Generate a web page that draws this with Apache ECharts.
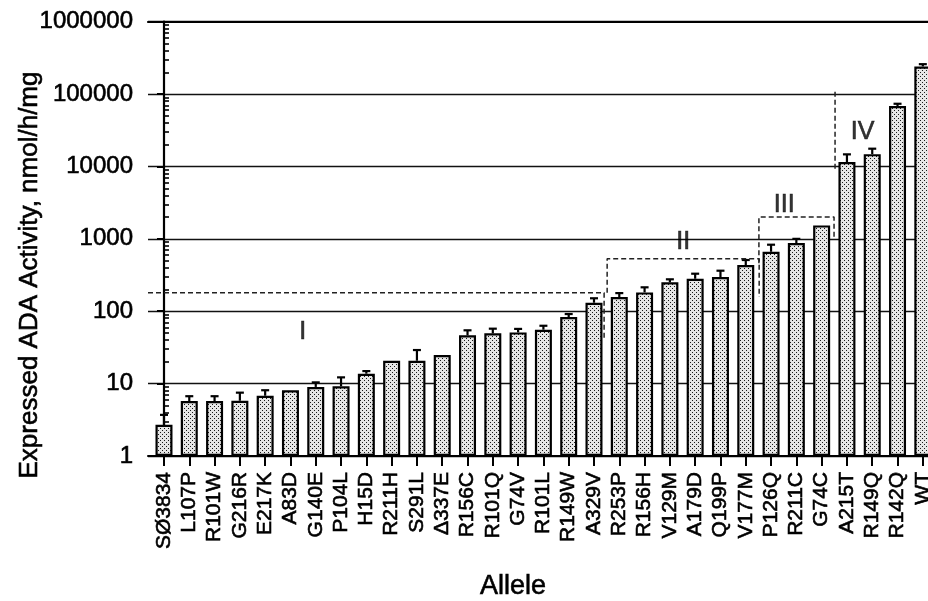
<!DOCTYPE html>
<html>
<head>
<meta charset="utf-8">
<script src="https://cdn.jsdelivr.net/npm/echarts@6/dist/echarts.min.js"></script>
<style>
html,body{margin:0;padding:0;background:#fff;}
#chart{width:928px;height:601px;}
</style>
</head>
<body>
<div id="chart"></div>
<script>
// ---- data ----
const alleles = ['SØ3834','L107P','R101W','G216R','E217K','A83D','G140E','P104L','H15D','R211H','S291L','Δ337E','R156C','R101Q','G74V','R101L','R149W','A329V','R253P','R156H','V129M','A179D','Q199P','V177M','P126Q','R211C','G74C','A215T','R149Q','R142Q','WT'];
const activity = [2.7,5.75,5.75,5.8,6.8,8.1,9.0,9.2,13.7,20.7,20.7,24.8,46.5,49.5,51,55.6,83,131,157,182,251,281,297,435,663,875,1535,11500,14800,68200,241000];
const errorTop = [3.7,6.7,6.7,7.5,8.1,null,10.4,12.2,14.9,null,29.1,null,54.5,57.4,57,63,91.5,151,178,214,276,330,363,510,830,1000,null,14700,17600,73500,259000];
const yTicks = [1,10,100,1000,10000,100000,1000000];
const minorMultipliers = [2,3,4,5,6,7,8,9];
const minorDecades = [1,10,100,1000,10000,100000];
// group boundary outlines (x in allele-index units, y in activity units)
const groupI = [[-0.632,180],[17.4,180],[17.4,43]];
const groupII = [[17.52,180],[17.52,530],[23.53,530],[23.53,157]];
const groupIII = [[23.52,460],[23.52,2000],[26.49,2000],[26.49,962]];
const groupIV = [[26.53,107600],[26.53,8720]];
const groupNames = ['I','II','III','IV'];
const groupNameX = [5.48,20.53,24.52,27.62];
const groupNameY = [52,912,2930,30100];
const yTitle = 'Expressed ADA Activity, nmol/h/mg';
const xTitle = 'Allele';

// ---- helpers ----
const xIdx = alleles.map((_, i) => i);
const yMinor = [];
minorDecades.forEach(d => minorMultipliers.forEach(m => yMinor.push(d * m)));

const pat = document.createElement('canvas');
pat.width = 4; pat.height = 4;
const pc = pat.getContext('2d');
pc.fillStyle = '#e6e6e6'; pc.fillRect(0,0,4,4);
pc.fillStyle = '#1a1a1a';
pc.fillRect(0,0,1,1); pc.fillRect(2,2,1,1);

const FONT = '"Liberation Sans", Arial, Helvetica, sans-serif';
const X_MIN = -0.632, X_MAX = 30.6;
const thick = {textBorderColor:'#000', textBorderWidth:0.6};

const chart = echarts.init(document.getElementById('chart'), null, {renderer:'canvas'});

const dashStyle = {color:'#222', width:1.5, type:[5,3]};
function outline(pts){
  return {type:'line', xAxisIndex:0, yAxisIndex:0, data:pts, symbol:'none', silent:true,
    lineStyle:dashStyle, z:4};
}

chart.setOption({
  animation:false,
  backgroundColor:'#fff',
  grid:{left:148, top:21.7, width:790, bottom:145, outerBoundsMode:'none', containLabel:false},
  xAxis:[{
    type:'value', min:X_MIN, max:X_MAX, position:'bottom',
    axisLine:{show:true, lineStyle:{color:'#000', width:2}},
    axisTick:{show:true, customValues:xIdx, length:10, lineStyle:{color:'#000', width:2}},
    axisLabel:Object.assign({show:true, customValues:xIdx, formatter:v => alleles[Math.round(v)], rotate:90,
      fontSize:21, fontFamily:FONT, color:'#000', margin:16}, thick),
    splitLine:{show:false}
  },{
    type:'value', min:X_MIN, max:X_MAX, position:'top',
    axisLine:{show:true, lineStyle:{color:'#000', width:2.2}},
    axisTick:{show:false}, axisLabel:{show:false}, splitLine:{show:false}
  }],
  yAxis:[{
    type:'log', logBase:10, min:1, max:1000000, position:'left',
    axisLine:{show:true, lineStyle:{color:'#000', width:2.2}},
    axisTick:{show:true, customValues:yTicks, length:7, lineStyle:{color:'#000', width:2}},
    axisLabel:Object.assign({show:true, customValues:yTicks, formatter:v => String(Math.round(v)),
      fontSize:24, fontFamily:FONT, color:'#000', margin:15}, thick),
    splitLine:{show:true, lineStyle:{color:'#111', width:1.3}}
  },{
    type:'log', logBase:10, min:1, max:1000000, position:'left',
    axisLine:{show:false},
    axisTick:{show:true, inside:true, customValues:yMinor, length:5, lineStyle:{color:'#000', width:1.6}},
    axisLabel:{show:false}, splitLine:{show:false}
  }],
  graphic:[
    {type:'text', x:30, y:275, rotation:Math.PI/2,
      style:{text:yTitle, font:'26px ' + FONT, fill:'#000', stroke:'#000', lineWidth:0.6, align:'center', verticalAlign:'middle'}},
    {type:'text', x:513, y:587,
      style:{text:xTitle, font:'27px ' + FONT, fill:'#000', stroke:'#000', lineWidth:0.6, align:'center', verticalAlign:'middle'}}
  ],
  series:[
    {type:'bar', xAxisIndex:0, yAxisIndex:0, barWidth:17,
      data:activity.map((v,i) => [i, v]),
      itemStyle:{color:{image:pat, repeat:'repeat'}, borderColor:'#000', borderWidth:2.2},
      z:2},
    {type:'custom', xAxisIndex:0, yAxisIndex:0, z:3, silent:true,
      data:activity.map((v,i) => [i, v, errorTop[i] == null ? v : errorTop[i]]),
      renderItem:function(params, api){
        const top = api.value(1), e = api.value(2);
        if (!(e > top)) return null;
        const p1 = api.coord([api.value(0), top]);
        const p2 = api.coord([api.value(0), e]);
        return {type:'group', children:[
          {type:'line', shape:{x1:p1[0], y1:p1[1], x2:p2[0], y2:p2[1]}, style:{stroke:'#000', lineWidth:2.2}},
          {type:'line', shape:{x1:p2[0]-4, y1:p2[1], x2:p2[0]+4, y2:p2[1]}, style:{stroke:'#000', lineWidth:2.2}}
        ]};
      }},
    outline(groupI), outline(groupII), outline(groupIII), outline(groupIV),
    {type:'scatter', xAxisIndex:0, yAxisIndex:0, symbolSize:1, silent:true, z:5,
      itemStyle:{color:'rgba(0,0,0,0)'},
      data:groupNames.map((n,i) => ({name:n, value:[groupNameX[i], groupNameY[i]]})),
      label:Object.assign({show:true, position:'inside', formatter:p => p.name, fontSize:25, fontFamily:FONT, color:'#000'}, thick)}
  ]
});
</script>
</body>
</html>
